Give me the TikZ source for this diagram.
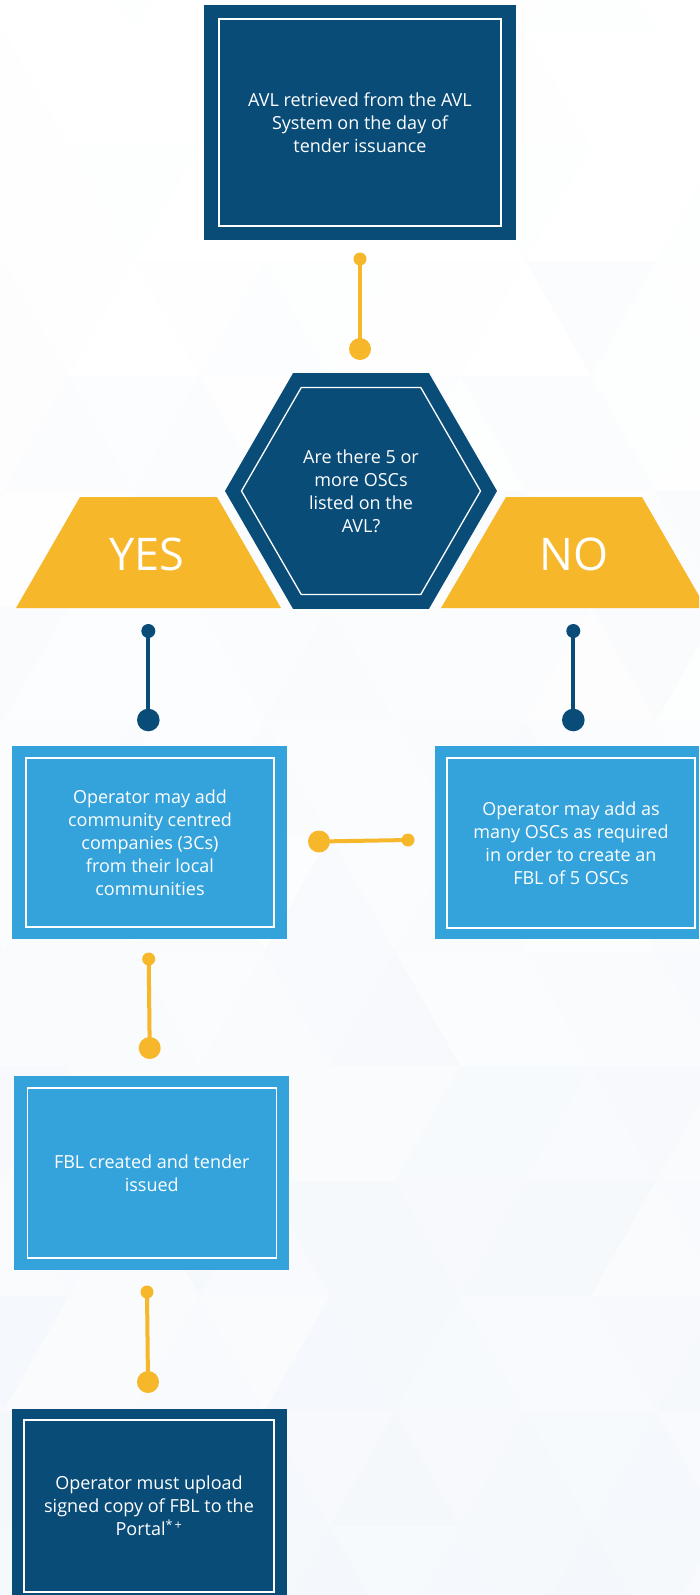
\documentclass[tikz,border=0pt]{standalone}
\usepackage{fontspec}
\setmainfont{Open Sans}
\usetikzlibrary{shapes.geometric}
\definecolor{dkblue}{RGB}{9,76,120}
\definecolor{ltblue}{RGB}{52,163,219}
\definecolor{ylw}{RGB}{246,183,43}
\definecolor{bgt}{RGB}{222,232,244}
\tikzset{
  darkbox/.style={fill=dkblue, inner sep=0pt, outer sep=0pt},
  lightbox/.style={fill=ltblue, inner sep=0pt, outer sep=0pt},
  frame/.style={draw=white, line width=1.3pt, text=white, align=center,
    inner sep=0pt, font=\fontsize{18}{23}\selectfont},
  ylink/.style={draw=ylw, line width=4pt},
  blink/.style={draw=dkblue, line width=4pt},
  trap/.style={fill=ylw},
  bigword/.style={text=white, anchor=base, inner sep=0pt, font=\fontsize{45}{45}\selectfont},
}
\begin{document}
\begin{tikzpicture}[x=1pt,y=-1pt]
\useasboundingbox (0,0) rectangle (699,1595);
\fill[white] (0,0) rectangle (699,1595);
% background triangle pattern
\pgfmathsetseed{42}
\foreach \r in {-1,...,13}{
  \pgfmathsetmacro\yt{31+115*\r}
  \pgfmathsetmacro\yb{\yt+115}
  \pgfmathsetmacro\off{isodd(\r) ? 69 : 3.75}
  \pgfmathsetmacro\base{\yt/1595*28-5}
  \foreach \k in {-1,...,5}{
    \pgfmathsetmacro\xa{\off+130.5*\k}
    \pgfmathtruncatemacro\ta{max(0,rnd*13+\base)}
    \pgfmathtruncatemacro\tb{max(0,rnd*13+\base)}
    \fill[bgt!\ta!white] (\xa,\yt) -- (\xa+65.25,\yb) -- (\xa-65.25,\yb) -- cycle;
    \fill[bgt!\tb!white] (\xa,\yt) -- (\xa+130.5,\yt) -- (\xa+65.25,\yb) -- cycle;
  }
}
% box 1
\node[darkbox, minimum width=312pt, minimum height=235pt] (b1) at (360,122.5) {};
\node[frame, minimum width=282pt, minimum height=207pt] (b1t) at (360,122.5)
  {AVL retrieved from the AVL\\System on the day of\\tender issuance};
% hexagon
\node[regular polygon, regular polygon sides=6, minimum size=272pt, fill=dkblue,
  inner sep=0pt, outer sep=0pt] (hex) at (361,491) {};
\node[regular polygon, regular polygon sides=6, minimum size=239pt, frame] (hext) at (361,491)
  {Are there 5 or\\more OSCs\\listed on the\\AVL?};
% YES / NO trapezoids
\fill[trap] (80,497) -- (217,497) -- (281,608) -- (16,608) -- cycle;
\fill[trap] (506,497) -- (642,497) -- (699,595.7) -- (699,608) -- (441,608) -- cycle;
\node[bigword] (yes) at (147,570) {YES};
\node[bigword] (no) at (574,570) {NO};
% boxes
\node[lightbox, minimum width=275pt, minimum height=193pt] (by) at (149.5,842.5) {};
\node[frame, minimum width=248pt, minimum height=169pt] (byt) at (150,842.5)
  {Operator may add\\community centred\\companies (3Cs)\\from their local\\communities};
\node[lightbox, minimum width=264pt, minimum height=193pt] (bn) at (567,842.5) {};
\node[frame, minimum width=248pt, minimum height=170pt] (bnt) at (571,843)
  {Operator may add as\\many OSCs as required\\in order to create an\\FBL of 5 OSCs};
\node[lightbox, minimum width=275pt, minimum height=194pt] (bf) at (151.5,1173) {};
\node[frame, minimum width=249pt, minimum height=170pt] (bft) at (151.8,1173)
  {FBL created and tender\\issued};
\node[darkbox, minimum width=275pt, minimum height=191pt] (bp) at (149.5,1504.5) {};
\node[frame, minimum width=250pt, minimum height=172pt] (bpt) at (149,1506)
  {Operator must upload\\signed copy of FBL to the\\Portal\textsuperscript{*\,+}};
% connectors
\coordinate (c1a) at (360,259);   \coordinate (c1b) at (360,349);
\coordinate (ya) at (148.3,631);  \coordinate (yb) at (148.3,720);
\coordinate (na) at (573.3,631);  \coordinate (nb) at (573.3,720);
\coordinate (ha) at (319,841.5);  \coordinate (hb) at (408,840);
\coordinate (fa) at (148.7,959);  \coordinate (fb) at (149.7,1048);
\coordinate (ga) at (147,1292);   \coordinate (gb) at (148,1382);
\draw[ylink] (c1a) -- (c1b);
\fill[ylw] (c1a) circle (6.5) (c1b) circle (11);
\draw[blink] (ya) -- (yb);
\fill[dkblue] (ya) circle (7) (yb) circle (11.3);
\draw[blink] (na) -- (nb);
\fill[dkblue] (na) circle (7) (nb) circle (11.3);
\draw[ylink] (ha) -- (hb);
\fill[ylw] (ha) circle (11) (hb) circle (6.5);
\draw[ylink] (fa) -- (fb);
\fill[ylw] (fa) circle (6.5) (fb) circle (11);
\draw[ylink] (ga) -- (gb);
\fill[ylw] (ga) circle (6.5) (gb) circle (11);
\end{tikzpicture}
\end{document}
